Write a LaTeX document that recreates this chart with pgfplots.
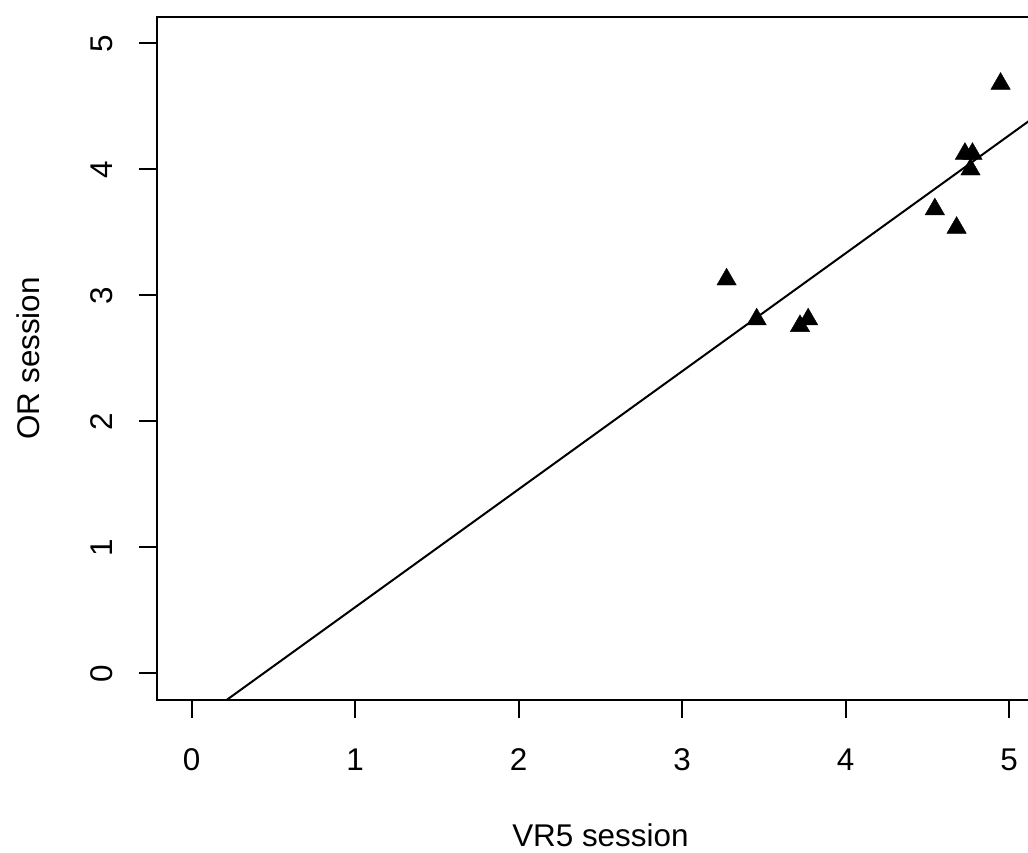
\documentclass[border=0pt]{standalone}
\usepackage{fontspec}
\setmainfont{Liberation Sans}
\usepackage{pgfplots}
\pgfplotsset{compat=1.18}

\begin{document}
\begin{tikzpicture}
% page = the cropped R plot (1028x852 px at 0.5pt/px)
\useasboundingbox (-78.7pt,-76.05pt) rectangle (435.3pt,349.95pt);
\begin{axis}[
    at={(0,0)}, anchor=south west,
    scale only axis,
    width=443pt, height=341.6pt,
    xmin=-0.21, xmax=5.21,
    ymin=-0.211, ymax=5.211,
    xtick={0,1,2,3,4,5},
    ytick={0,1,2,3,4,5},
    xtick pos=bottom, ytick pos=left,
    tick align=outside,
    major tick length=9pt,
    axis line style={line width=1pt},
    tick style={line width=1pt, black},
    /pgf/number format/assume math mode=true,
    ticklabel style={font=\fontsize{15.7}{18}\selectfont, inner sep=0pt},
    xticklabel style={anchor=base},
    xticklabel shift=26.5pt,
    yticklabel style={rotate=90, anchor=base},
    yticklabel shift=13.3pt,
    xlabel={VR5 session},
    ylabel={OR session},
    label style={font=\fontsize{15.7}{18}\selectfont, inner sep=0pt},
    xlabel style={at={(rel axis cs:0.5,-0.21516)}, anchor=base},
    ylabel style={at={(rel axis cs:-0.13318,0.5)}, anchor=base},
  ]
  % regression line (two end points)
  \addplot[black, line width=1pt] coordinates {(-0.21,-0.608) (5.21,4.466)};
  % observations
  \addplot[only marks, mark=triangle*, mark size=5.6pt,
           mark options={fill=black, draw=black, line width=0.2pt}]
    coordinates {
      (4.948,4.679)
      (4.730,4.123)
      (4.776,4.123)
      (4.764,3.999)
      (4.546,3.683)
      (4.679,3.536)
      (3.272,3.126)
      (3.456,2.809)
      (3.721,2.756)
      (3.771,2.809)
    };
\end{axis}
\end{tikzpicture}
\end{document}
